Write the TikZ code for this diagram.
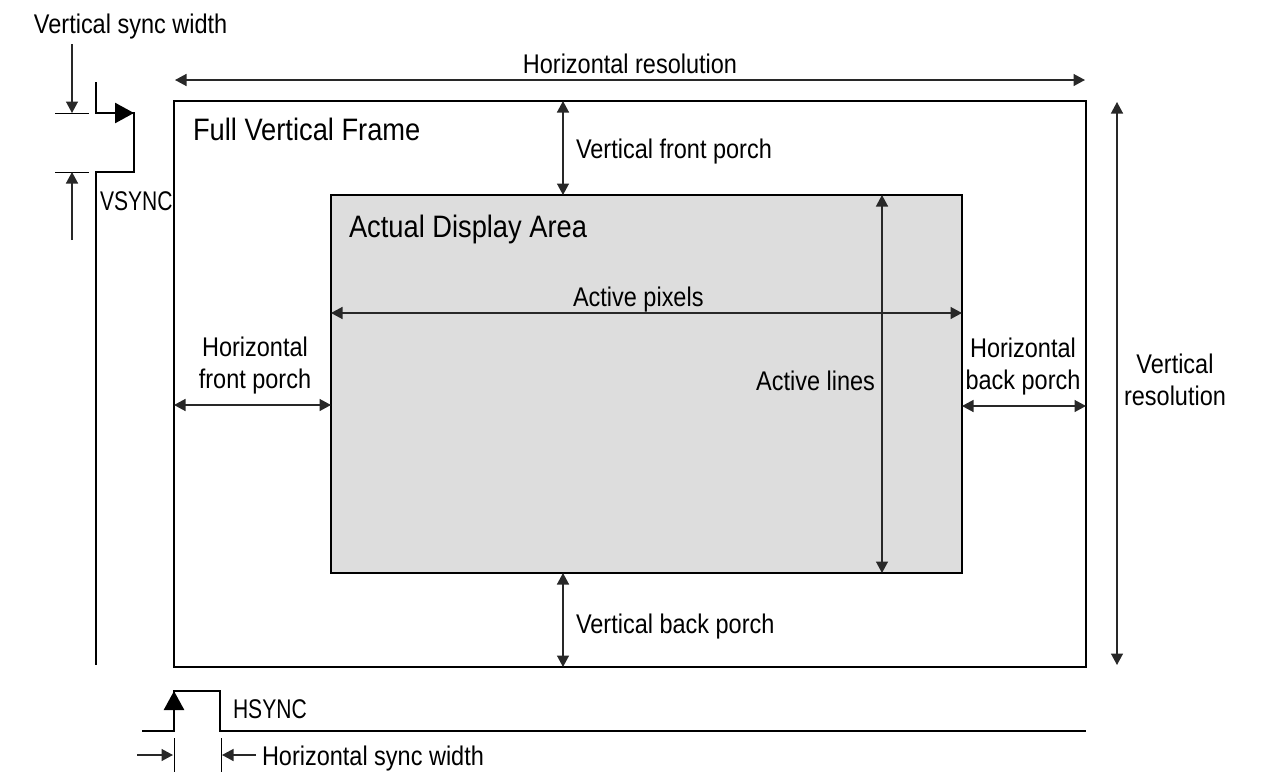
\documentclass[tikz,border=0pt]{standalone}
\usepackage{fontspec}
\setmainfont[FakeStretch=0.87]{Liberation Sans}
\newfontfamily\sigfont[FakeStretch=0.78]{Liberation Sans}
\newfontfamily\titlefont[FakeStretch=0.88]{Liberation Sans}
\usetikzlibrary{arrows.meta}
\definecolor{areagray}{RGB}{221,221,221}
\definecolor{dimline}{RGB}{40,40,40}
\tikzset{
  x=1pt, y=-1pt,
  framebox/.style={draw=black, line width=2.6pt, inner sep=0pt, outer sep=0pt},
  dimtip/.tip={Triangle[length=11.5pt,width=12pt]},
  dimboth/.style={draw=dimline, line width=1.4pt, dimtip-dimtip},
  dimone/.style={draw=dimline, line width=1.4pt, -dimtip},
  tick/.style={draw=black, line width=1pt},
  signal/.style={draw=black, line width=2.6pt, line join=miter},
  bigtip/.style={draw=black, line width=2.6pt, -{Triangle[length=19pt,width=20pt]}},
  lbl/.style={font=\fontsize{27}{32}\selectfont, inner sep=0pt, outer sep=0pt},
  siglbl/.style={font=\sigfont\fontsize{27}{32}\selectfont, inner sep=0pt, outer sep=0pt},
  biglbl/.style={font=\titlefont\fontsize{31}{36}\selectfont, inner sep=0pt, outer sep=0pt},
  mlbl/.style={lbl, align=center},
}
\begin{document}
\begin{tikzpicture}
\useasboundingbox (0,0) rectangle (1262,772);

% full frame and active area
\node[framebox, minimum width=912pt, minimum height=566pt, anchor=north west] (frame) at (174,101) {};
\node[framebox, fill=areagray, minimum width=631pt, minimum height=378pt, anchor=north west] (disp) at (331,195) {};

% titles
\node[biglbl, anchor=base west] (ftitle) at (193,140) {Full Vertical Frame};
\node[biglbl, anchor=base west] (dtitle) at (349,237) {Actual Display Area};

% horizontal resolution
\coordinate (hrL) at (175,80);
\coordinate (hrR) at (1085,80);
\draw[dimboth] (hrL) -- (hrR);
\node[lbl, anchor=base] (hrlbl) at (630,73) {Horizontal resolution};

% vertical resolution
\coordinate (vrT) at (1117,102);
\coordinate (vrB) at (1117,665);
\draw[dimboth] (vrT) -- (vrB);
\node[mlbl] (vrlbl) at (1175,380) {Vertical\\resolution};

% vertical porches
\draw[dimboth] (frame.north -| 563,0) -- (disp.north -| 563,0);
\node[lbl, anchor=base west] (vfp) at (576,158) {Vertical front porch};
\draw[dimboth] (disp.south -| 563,0) -- (frame.south -| 563,0);
\node[lbl, anchor=base west] (vbp) at (576,633) {Vertical back porch};

% horizontal porches
\draw[dimboth] (frame.west |- 0,405) -- (disp.west |- 0,405);
\node[mlbl] (hfp) at (255,366) {Horizontal\\front porch};
\draw[dimboth] (disp.east |- 0,406) -- (frame.east |- 0,406);
\node[mlbl] (hbp) at (1023,367) {Horizontal\\back porch};

% active pixels and lines
\draw[dimboth] (disp.west |- 0,313) -- (disp.east |- 0,313);
\node[lbl, anchor=base west] (aplbl) at (573,306) {Active pixels};
\draw[dimboth] (disp.north -| 882,0) -- (disp.south -| 882,0);
\node[lbl, anchor=base east] (allbl) at (875,390) {Active lines};

% VSYNC waveform
\coordinate (vs0) at (96,82);
\coordinate (vs1) at (96,113);
\coordinate (vs2) at (134,113);
\coordinate (vs3) at (134,172);
\coordinate (vs4) at (96,172);
\coordinate (vs5) at (96,665);
\draw[signal] (vs0) -- (vs1) -- (vs2) -- (vs3) -- (vs4) -- (vs5);
\draw[bigtip] (vs1) -- (vs2);
\node[siglbl, anchor=base west] (vslbl) at (100,210) {VSYNC};

% vertical sync width
\coordinate (vt1a) at (55,113);
\coordinate (vt1b) at (89,113);
\coordinate (vt2a) at (55,172);
\coordinate (vt2b) at (89,172);
\draw[tick] (vt1a) -- (vt1b);
\draw[tick] (vt2a) -- (vt2b);
\coordinate (va0) at (72,44);
\coordinate (va1) at (72,113);
\coordinate (vb0) at (72,240);
\coordinate (vb1) at (72,172);
\draw[dimone] (va0) -- (va1);
\draw[dimone] (vb0) -- (vb1);
\node[lbl, anchor=base west] (vswlbl) at (34,33) {Vertical sync width};

% HSYNC waveform
\coordinate (hs0) at (142,731);
\coordinate (hs1) at (174,731);
\coordinate (hs2) at (174,691);
\coordinate (hs3) at (220,691);
\coordinate (hs4) at (220,731);
\coordinate (hs5) at (1086,731);
\draw[signal] (hs0) -- (hs1) -- (hs2) -- (hs3) -- (hs4) -- (hs5);
\draw[bigtip] (hs1) -- (hs2);
\node[siglbl, anchor=base west] (hslbl) at (233,718) {HSYNC};

% horizontal sync width
\coordinate (ht1a) at (174,738);
\coordinate (ht1b) at (174,772);
\coordinate (ht2a) at (221,738);
\coordinate (ht2b) at (221,772);
\draw[tick] (ht1a) -- (ht1b);
\draw[tick] (ht2a) -- (ht2b);
\coordinate (ha0) at (137,755);
\coordinate (ha1) at (173,755);
\coordinate (hb0) at (256,755);
\coordinate (hb1) at (222,755);
\draw[dimone] (ha0) -- (ha1);
\draw[dimone] (hb0) -- (hb1);
\node[lbl, anchor=base west] (hswlbl) at (262,765) {Horizontal sync width};
\end{tikzpicture}
\end{document}
